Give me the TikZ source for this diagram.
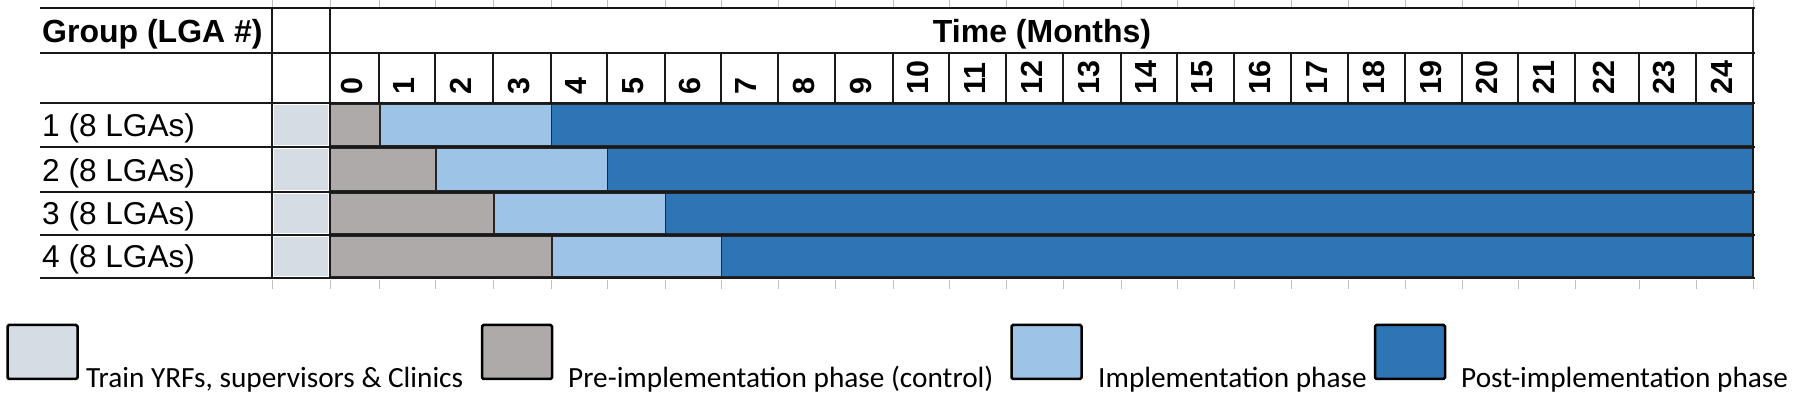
\documentclass[tikz,border=0pt]{standalone}
\usepackage{fontspec}
\setmainfont{Liberation Sans}
\newfontfamily\legendfont{Carlito}
\definecolor{trainc}{HTML}{D6DCE4}
\definecolor{prec}{HTML}{AEAAAA}
\definecolor{implc}{HTML}{9DC3E6}
\definecolor{postc}{HTML}{2E75B6}
\begin{document}
\begin{tikzpicture}[x=1pt,y=-1pt,
  gridline/.style={line width=2pt,black!90},
  monthsep/.style={line width=1.5pt,black!90},
  faint/.style={line width=1pt,black!25},
  bar/.style={draw=black!85,line width=1pt},
  hdr/.style={inner sep=0pt,anchor=base,font=\fontsize{32}{36}\selectfont\bfseries},
  rowlab/.style={inner sep=0pt,anchor=base west,font=\fontsize{31.6}{36}\selectfont},
  mlab/.style={inner sep=0pt,rotate=90,anchor=west,font=\fontsize{30.5}{34}\selectfont\bfseries},
  legbox/.style={draw=black,line width=2.5pt,rounded corners=1.5pt,minimum width=70pt,minimum height=54pt,inner sep=0pt},
  legtext/.style={inner sep=0pt,anchor=base west,font=\fontsize{29.3}{33}\selectfont\legendfont}]
\useasboundingbox (0,0) rectangle (1800,395);
\fill[white] (0,0) rectangle (1800,395);

% faint gridline stubs
\foreach \x in {272,330,379,435,493,551,607,665,721,778,835,893,949,1006,1063,1121,1177,1234,1291,1348,1405,1462,1518,1575,1639,1696,1753}{
  \draw[faint] (\x,0) -- (\x,7);
  \draw[faint] (\x,280) -- (\x,289);
}

% training cells
\foreach \t/\b in {103/147,147/192,192/235,235/278}{
  \fill[trainc] (274,\t+2) rectangle (328,\b-2);
}

% bars
\foreach \t/\b/\g/\l in {103/147/379/551,147/192/435/607,192/235/493/665,235/278/551/721}{
  \draw[bar,fill=postc] (\l,\t+1.5) rectangle (1753,\b-1.5);
  \draw[bar,fill=implc] (\g+1,\t+1.5) rectangle (\l,\b-1.5);
  \draw[bar,fill=prec] (330,\t+1.5) rectangle (\g,\b-1.5);
}

% grid
\foreach \y in {8,53,103,147,192,235,278}{
  \draw[gridline] (40,\y) -- (1755,\y);
}
\foreach \x in {272,330,1753}{
  \draw[gridline] (\x,8) -- (\x,278);
}
\foreach \x in {379,435,493,551,607,665,721,778,835,893,949,1006,1063,1121,1177,1234,1291,1348,1405,1462,1518,1575,1639,1696}{
  \draw[monthsep] (\x,53) -- (\x,103);
}

% headers
\node[hdr,anchor=base west] (hgroup) at (42,43) {Group (LGA \#)};
\node[hdr] (htime) at (1042,43) {Time (Months)};

% month labels
\foreach \a/\b/\n in {330/379/0,379/435/1,435/493/2,493/551/3,551/607/4,607/665/5,665/721/6,721/778/7,778/835/8,835/893/9,893/949/10,949/1006/11,1006/1063/12,1063/1121/13,1121/1177/14,1177/1234/15,1234/1291/16,1291/1348/17,1348/1405/18,1405/1462/19,1462/1518/20,1518/1575/21,1575/1639/22,1639/1696/23,1696/1753/24}{
  \node[mlab] (m\n) at ({(\a+\b)/2-3},95) {\n};
}

% row labels
\node[rowlab] (g1) at (42,137) {1 (8 LGAs)};
\node[rowlab] (g2) at (42,182) {2 (8 LGAs)};
\node[rowlab] (g3) at (42,225) {3 (8 LGAs)};
\node[rowlab] (g4) at (42,268) {4 (8 LGAs)};

% legend
\node[legbox,fill=trainc] (lb1) at (42.5,352) {};
\node[legtext] (lt1) at (86,388) {Train YRFs, supervisors \& Clinics};
\node[legbox,fill=prec] (lb2) at (517,352) {};
\node[legtext] (lt2) at (568,388) {Pre-implementation phase (control)};
\node[legbox,fill=implc] (lb3) at (1046.5,352) {};
\node[legtext] (lt3) at (1098,388) {Implementation phase};
\node[legbox,fill=postc] (lb4) at (1410,352) {};
\node[legtext] (lt4) at (1461,388) {Post-implementation phase};
\end{tikzpicture}
\end{document}
